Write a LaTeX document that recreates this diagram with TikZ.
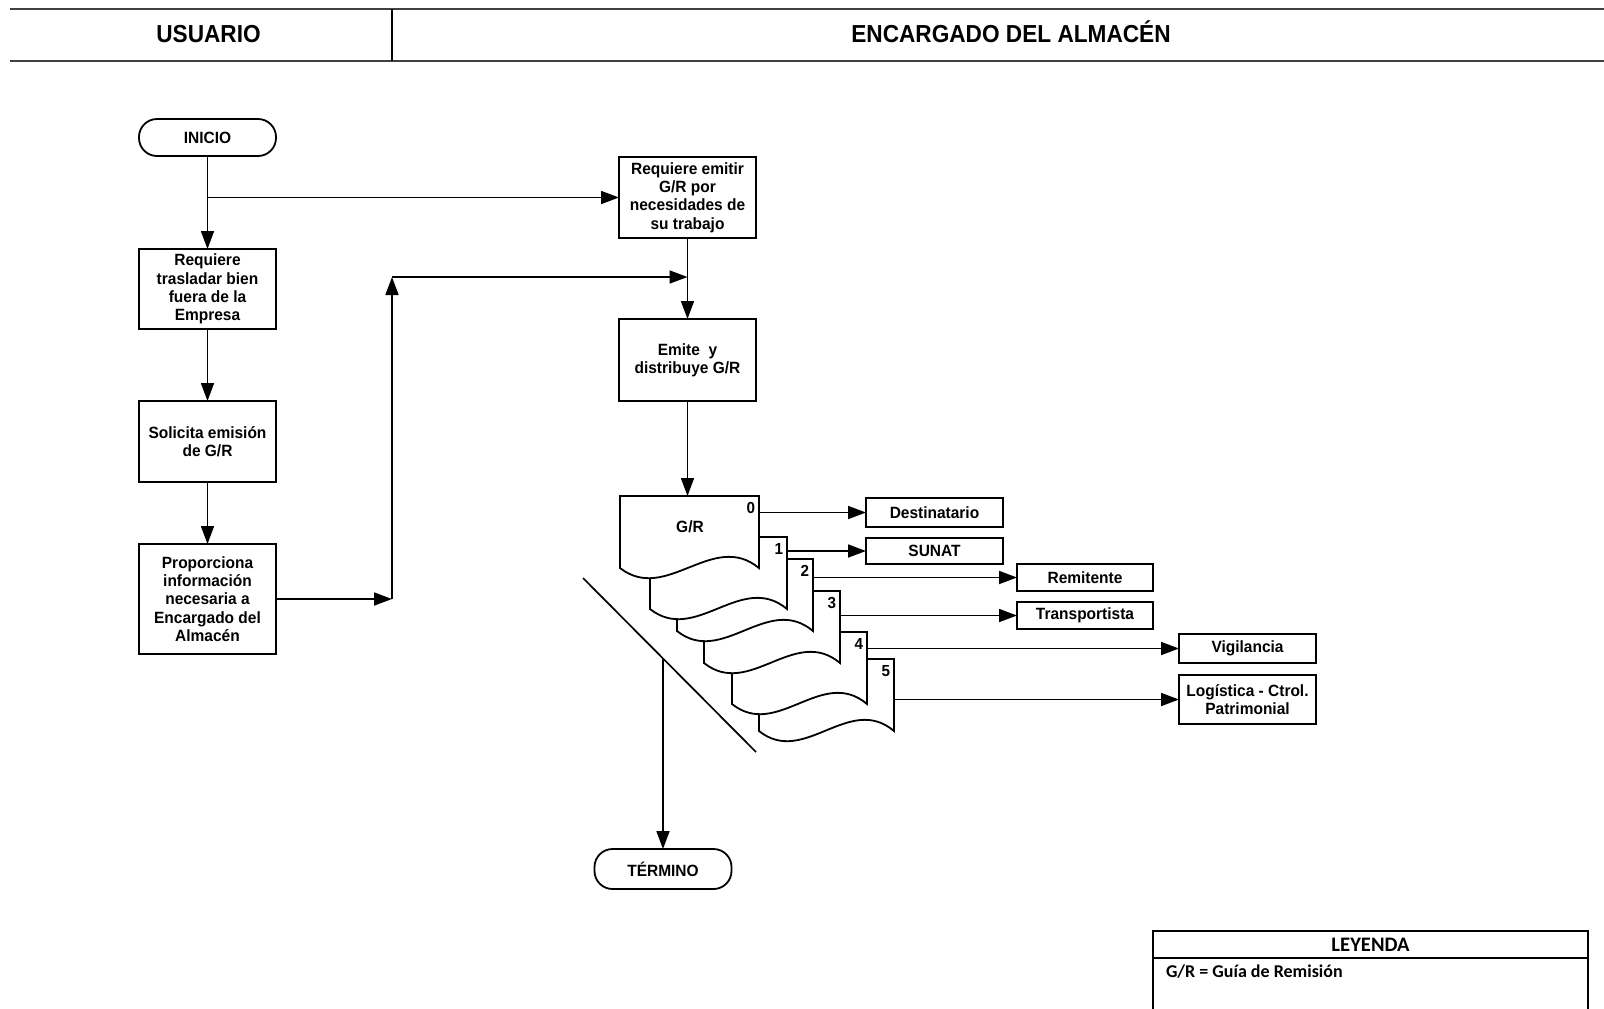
\documentclass[tikz,border=0pt]{standalone}
\usepackage{fontspec}
\setmainfont{Liberation Sans}
\newfontfamily\bodyfont{Liberation Sans}[FakeStretch=0.95]
\newfontfamily\headfont{Liberation Sans}[FakeStretch=0.92]
\newfontfamily\legfont{Carlito}
\usetikzlibrary{arrows.meta,calc}

\begin{document}
\begin{tikzpicture}[x=0.5pt,y=-0.5pt,
  every node/.style={inner sep=0pt, outer sep=0pt},
  txt/.style={font=\bodyfont\bfseries\fontsize{8.15}{9.15}\selectfont, align=center},
  box/.style={txt, draw, line width=0.9pt, minimum width=68.5pt},
  termbox/.style={box, rounded corners=9pt},
  arr/.style={line width=0.85pt, -{Triangle[length=9pt,width=6.5pt]}},
  ln/.style={line width=0.85pt},
  docshape/.style={draw, fill=white, line width=0.9pt},
  num/.style={font=\bodyfont\bfseries\fontsize{8}{9}\selectfont},
  hdr/.style={font=\headfont\bfseries\fontsize{12.3}{14}\selectfont, anchor=base},
  rule/.style={line width=1.4pt, black!75}
]
\fill[white] (0,0) rectangle (1604,1008);
\useasboundingbox (0,0) rectangle (1604,1008);

% swimlane header
\draw[rule] (10,9) -- (1604,9);
\draw[rule] (10,61) -- (1604,61);
\draw[line width=0.9pt] (392,9) -- (392,61);
\node[hdr] (lane1) at (208.5,42) {USUARIO};
\node[hdr] (lane2) at (1011,42) {ENCARGADO DEL ALMACÉN};

% user lane
\node[termbox, minimum height=18.5pt] (inicio) at (207.5,137.5) {INICIO};
\node[box, minimum height=40pt] (req1) at (207.5,289) {Requiere\\trasladar bien\\fuera de la\\Empresa};
\node[box, minimum height=40.5pt] (sol) at (207.5,441.5) {Solicita emisión\\de G/R};
\node[box, minimum height=55pt] (prop) at (207.5,599) {Proporciona\\información\\necesaria a\\Encargado del\\Almacén};

% warehouse lane
\node[box, minimum height=40.5pt] (req2) at (687.5,197.5) {Requiere emitir\\G/R por\\necesidades de\\su trabajo};
\node[box, minimum height=41pt] (emite) at (687.5,360) {Emite\ \ y\\distribuye G/R};
\node[termbox, minimum height=20pt] (fin) at (663,869) {TÉRMINO};

% recipients of the copies
\node[box, minimum height=14.5pt] (dest) at (934.5,512.5) {Destinatario};
\node[box, minimum height=13pt] (sunat) at (934.5,551) {SUNAT};
\node[box, minimum width=68pt, minimum height=13.5pt] (remit) at (1085,577.5) {Remitente};
\node[box, minimum width=68pt, minimum height=13.5pt] (transp) at (1085,615.5) {Transportista};
\node[box, minimum height=14.5pt] (vigil) at (1247.5,648.5) {Vigilancia};
\node[box, minimum height=24.5pt] (logis) at (1247.5,699.5) {Logística - Ctrol.\\Patrimonial};

% stacked copies of the G/R, back to front
\foreach \n/\L/\R/\T in {5/759/894/659, 4/732/867/632, 3/704/840/591, 2/677/813/559, 1/650/787/537, 0/620/759/496} {
  \pgfmathsetmacro\B{\T+72}
  \draw[docshape] (\L,\B) -- (\L,\T) -- (\R,\T) -- (\R,\B)
     .. controls ({\L+2*(\R-\L)/3},{\B-38}) and ({\L+(\R-\L)/3},{\B+36}) .. (\L,\B) -- cycle;
  \node[num, anchor=north east] (n\n) at ({\R-4},{\T+6}) {\n};
  \coordinate (d\n) at (\R,\T);
}
\node[txt] (gr) at (690,527) {G/R};

% flow
\draw[arr] (inicio) -- (req1);
\coordinate (br) at (inicio.south |- req2.west);
\draw[arr] (br) -- (req2.west);
\draw[arr] (req1) -- (sol);
\draw[arr] (sol) -- (prop);
\coordinate (cb) at (392,599);
\coordinate (ct) at (392,277);
\coordinate (cm) at (req2.south |- ct);
\draw[arr] (prop.east) -- (cb);
\draw[arr] (cb) -- (ct);
\draw[arr] (ct) -- (cm);
\draw[arr] (req2) -- (emite);
\coordinate (dtop) at (687.5,496);
\draw[arr] (emite) -- (dtop);

% distribution of copies
\draw[arr] (dest.west -| d0) -- (dest.west);
\draw[arr] (sunat.west -| d1) -- (sunat.west);
\draw[arr] (remit.west -| d2) -- (remit.west);
\draw[arr] (transp.west -| d3) -- (transp.west);
\draw[arr] (vigil.west -| d4) -- (vigil.west);
\draw[arr] (logis.west -| d5) -- (logis.west);

% filing line and end
\coordinate (dA) at (583,578);
\coordinate (dB) at (756,752);
\draw[ln] (dA) -- (dB);
\coordinate (dC) at ($(dA)!0.4624!(dB)$);
\draw[arr] (dC) -- (dC |- fin.north);

% legend
\draw[line width=1.2pt] (1153,1012) -- (1153,931) -- (1588,931) -- (1588,1012);
\draw[line width=1.2pt] (1153,958) -- (1588,958);
\node[font=\legfont\bfseries\fontsize{10.3}{12}\selectfont] (leyenda) at (1370.5,944.5) {LEYENDA};
\node[font=\legfont\bfseries\fontsize{9}{10}\selectfont, anchor=base west] (leytxt) at (1166,977) {G/R = Guía de Remisión};
\end{tikzpicture}
\end{document}
